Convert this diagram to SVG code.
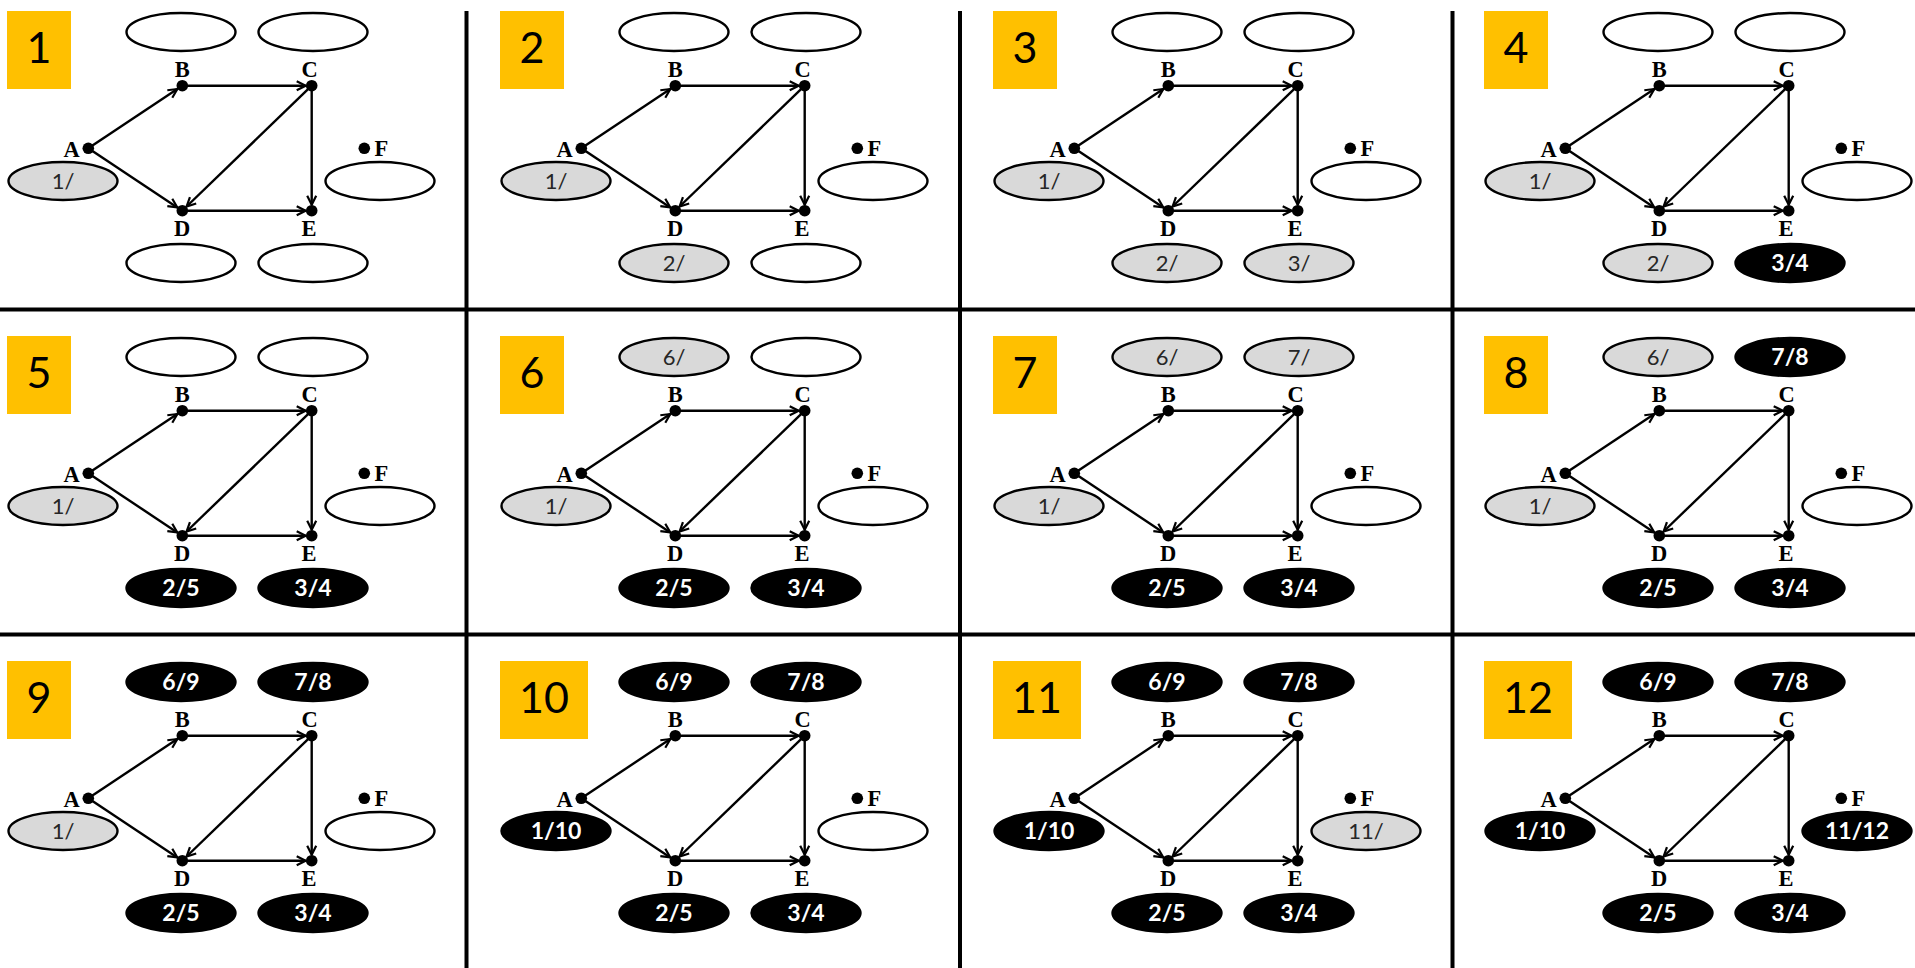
<svg xmlns="http://www.w3.org/2000/svg" width="1915" height="968" viewBox="0 0 1915 968">
<defs>
<style>
.bg{fill:#ffffff}
.grid{stroke:#000;stroke-width:4}
.badge{fill:#FFC000}
.num{font-family:Lato,"Open Sans",sans-serif;font-size:43px;fill:#000;text-anchor:middle}
.edge{stroke:#000;stroke-width:2.4;fill:none;marker-end:url(#arr)}
.dot{fill:#000}
.lbl{font-family:"Liberation Serif","Times New Roman",serif;font-weight:bold;font-size:22.5px;fill:#000;text-anchor:middle}
.lblF{font-family:"Liberation Serif","Times New Roman",serif;font-weight:bold;font-size:22.5px;fill:#000}
.ew{fill:#fff;stroke:#000;stroke-width:2.4}
.eg{fill:#d9d9d9;stroke:#000;stroke-width:2.4}
.eb{fill:#000;stroke:#000;stroke-width:2.4}
.tg{font-family:Lato,"Open Sans",sans-serif;font-size:22px;fill:#262626;text-anchor:middle}
.tb{font-family:Lato,"Open Sans",sans-serif;font-weight:bold;font-size:23px;fill:#fff;text-anchor:middle}
</style>
<marker id="arr" markerUnits="userSpaceOnUse" markerWidth="14" markerHeight="14" viewBox="-2 -2 14 14" refX="9" refY="5" orient="auto">
<path d="M0,0.5 L9,5 L0,9.5" fill="none" stroke="#000" stroke-width="2.2"/>
</marker>
</defs>
<rect class="bg" x="0" y="0" width="1915" height="968"/>
<g id="gridlines">
<line class="grid" x1="466.5" y1="11" x2="466.5" y2="968"/>
<line class="grid" x1="960" y1="11" x2="960" y2="968"/>
<line class="grid" x1="1452.5" y1="11" x2="1452.5" y2="968"/>
<line class="grid" x1="0" y1="309.5" x2="1915" y2="309.5"/>
<line class="grid" x1="0" y1="634.5" x2="1915" y2="634.5"/>
</g>

<!-- Panel 1 -->
<g id="panel1" transform="translate(0,0)">
<g id="p1-badge"><rect class="badge" x="7" y="11" width="64" height="78"/><text class="num" x="39" y="63">1</text></g>
<g id="p1-edges"><line class="edge" x1="88.3" y1="148.3" x2="177.3" y2="89"/><line class="edge" x1="88.3" y1="148.3" x2="177.3" y2="207.4"/><line class="edge" x1="182.3" y1="85.7" x2="305.7" y2="85.7"/><line class="edge" x1="311.7" y1="85.7" x2="186.6" y2="206.5"/><line class="edge" x1="311.7" y1="85.7" x2="311.7" y2="204.7"/><line class="edge" x1="182.3" y1="210.7" x2="305.7" y2="210.7"/></g>
<g id="p1-A"><circle class="dot" cx="88.3" cy="148.3" r="5.8"/><text class="lbl" x="71.7" y="157.3">A</text><ellipse class="eg" cx="63" cy="181" rx="54.5" ry="19"/><text class="tg" x="63" y="189">1/</text></g>
<g id="p1-B"><circle class="dot" cx="182.3" cy="85.7" r="5.8"/><text class="lbl" x="182.3" y="77.3">B</text><ellipse class="ew" cx="181" cy="32" rx="54.5" ry="19"/></g>
<g id="p1-C"><circle class="dot" cx="311.7" cy="85.7" r="5.8"/><text class="lbl" x="309.5" y="77.3">C</text><ellipse class="ew" cx="313" cy="32" rx="54.5" ry="19"/></g>
<g id="p1-D"><circle class="dot" cx="182.3" cy="210.7" r="5.8"/><text class="lbl" x="182" y="236">D</text><ellipse class="ew" cx="181" cy="263" rx="54.5" ry="19"/></g>
<g id="p1-E"><circle class="dot" cx="311.7" cy="210.7" r="5.8"/><text class="lbl" x="309" y="236">E</text><ellipse class="ew" cx="313" cy="263" rx="54.5" ry="19"/></g>
<g id="p1-F"><circle class="dot" cx="364.3" cy="148.3" r="5.8"/><text class="lblF" x="374.5" y="155.5">F</text><ellipse class="ew" cx="380" cy="181" rx="54.5" ry="19"/></g>
</g>

<!-- Panel 2 -->
<g id="panel2" transform="translate(493,0)">
<g id="p2-badge"><rect class="badge" x="7" y="11" width="64" height="78"/><text class="num" x="39" y="63">2</text></g>
<g id="p2-edges"><line class="edge" x1="88.3" y1="148.3" x2="177.3" y2="89"/><line class="edge" x1="88.3" y1="148.3" x2="177.3" y2="207.4"/><line class="edge" x1="182.3" y1="85.7" x2="305.7" y2="85.7"/><line class="edge" x1="311.7" y1="85.7" x2="186.6" y2="206.5"/><line class="edge" x1="311.7" y1="85.7" x2="311.7" y2="204.7"/><line class="edge" x1="182.3" y1="210.7" x2="305.7" y2="210.7"/></g>
<g id="p2-A"><circle class="dot" cx="88.3" cy="148.3" r="5.8"/><text class="lbl" x="71.7" y="157.3">A</text><ellipse class="eg" cx="63" cy="181" rx="54.5" ry="19"/><text class="tg" x="63" y="189">1/</text></g>
<g id="p2-B"><circle class="dot" cx="182.3" cy="85.7" r="5.8"/><text class="lbl" x="182.3" y="77.3">B</text><ellipse class="ew" cx="181" cy="32" rx="54.5" ry="19"/></g>
<g id="p2-C"><circle class="dot" cx="311.7" cy="85.7" r="5.8"/><text class="lbl" x="309.5" y="77.3">C</text><ellipse class="ew" cx="313" cy="32" rx="54.5" ry="19"/></g>
<g id="p2-D"><circle class="dot" cx="182.3" cy="210.7" r="5.8"/><text class="lbl" x="182" y="236">D</text><ellipse class="eg" cx="181" cy="263" rx="54.5" ry="19"/><text class="tg" x="181" y="271">2/</text></g>
<g id="p2-E"><circle class="dot" cx="311.7" cy="210.7" r="5.8"/><text class="lbl" x="309" y="236">E</text><ellipse class="ew" cx="313" cy="263" rx="54.5" ry="19"/></g>
<g id="p2-F"><circle class="dot" cx="364.3" cy="148.3" r="5.8"/><text class="lblF" x="374.5" y="155.5">F</text><ellipse class="ew" cx="380" cy="181" rx="54.5" ry="19"/></g>
</g>

<!-- Panel 3 -->
<g id="panel3" transform="translate(986,0)">
<g id="p3-badge"><rect class="badge" x="7" y="11" width="64" height="78"/><text class="num" x="39" y="63">3</text></g>
<g id="p3-edges"><line class="edge" x1="88.3" y1="148.3" x2="177.3" y2="89"/><line class="edge" x1="88.3" y1="148.3" x2="177.3" y2="207.4"/><line class="edge" x1="182.3" y1="85.7" x2="305.7" y2="85.7"/><line class="edge" x1="311.7" y1="85.7" x2="186.6" y2="206.5"/><line class="edge" x1="311.7" y1="85.7" x2="311.7" y2="204.7"/><line class="edge" x1="182.3" y1="210.7" x2="305.7" y2="210.7"/></g>
<g id="p3-A"><circle class="dot" cx="88.3" cy="148.3" r="5.8"/><text class="lbl" x="71.7" y="157.3">A</text><ellipse class="eg" cx="63" cy="181" rx="54.5" ry="19"/><text class="tg" x="63" y="189">1/</text></g>
<g id="p3-B"><circle class="dot" cx="182.3" cy="85.7" r="5.8"/><text class="lbl" x="182.3" y="77.3">B</text><ellipse class="ew" cx="181" cy="32" rx="54.5" ry="19"/></g>
<g id="p3-C"><circle class="dot" cx="311.7" cy="85.7" r="5.8"/><text class="lbl" x="309.5" y="77.3">C</text><ellipse class="ew" cx="313" cy="32" rx="54.5" ry="19"/></g>
<g id="p3-D"><circle class="dot" cx="182.3" cy="210.7" r="5.8"/><text class="lbl" x="182" y="236">D</text><ellipse class="eg" cx="181" cy="263" rx="54.5" ry="19"/><text class="tg" x="181" y="271">2/</text></g>
<g id="p3-E"><circle class="dot" cx="311.7" cy="210.7" r="5.8"/><text class="lbl" x="309" y="236">E</text><ellipse class="eg" cx="313" cy="263" rx="54.5" ry="19"/><text class="tg" x="313" y="271">3/</text></g>
<g id="p3-F"><circle class="dot" cx="364.3" cy="148.3" r="5.8"/><text class="lblF" x="374.5" y="155.5">F</text><ellipse class="ew" cx="380" cy="181" rx="54.5" ry="19"/></g>
</g>

<!-- Panel 4 -->
<g id="panel4" transform="translate(1477,0)">
<g id="p4-badge"><rect class="badge" x="7" y="11" width="64" height="78"/><text class="num" x="39" y="63">4</text></g>
<g id="p4-edges"><line class="edge" x1="88.3" y1="148.3" x2="177.3" y2="89"/><line class="edge" x1="88.3" y1="148.3" x2="177.3" y2="207.4"/><line class="edge" x1="182.3" y1="85.7" x2="305.7" y2="85.7"/><line class="edge" x1="311.7" y1="85.7" x2="186.6" y2="206.5"/><line class="edge" x1="311.7" y1="85.7" x2="311.7" y2="204.7"/><line class="edge" x1="182.3" y1="210.7" x2="305.7" y2="210.7"/></g>
<g id="p4-A"><circle class="dot" cx="88.3" cy="148.3" r="5.8"/><text class="lbl" x="71.7" y="157.3">A</text><ellipse class="eg" cx="63" cy="181" rx="54.5" ry="19"/><text class="tg" x="63" y="189">1/</text></g>
<g id="p4-B"><circle class="dot" cx="182.3" cy="85.7" r="5.8"/><text class="lbl" x="182.3" y="77.3">B</text><ellipse class="ew" cx="181" cy="32" rx="54.5" ry="19"/></g>
<g id="p4-C"><circle class="dot" cx="311.7" cy="85.7" r="5.8"/><text class="lbl" x="309.5" y="77.3">C</text><ellipse class="ew" cx="313" cy="32" rx="54.5" ry="19"/></g>
<g id="p4-D"><circle class="dot" cx="182.3" cy="210.7" r="5.8"/><text class="lbl" x="182" y="236">D</text><ellipse class="eg" cx="181" cy="263" rx="54.5" ry="19"/><text class="tg" x="181" y="271">2/</text></g>
<g id="p4-E"><circle class="dot" cx="311.7" cy="210.7" r="5.8"/><text class="lbl" x="309" y="236">E</text><ellipse class="eb" cx="313" cy="263" rx="54.5" ry="19"/><text class="tb" x="313" y="271">3/4</text></g>
<g id="p4-F"><circle class="dot" cx="364.3" cy="148.3" r="5.8"/><text class="lblF" x="374.5" y="155.5">F</text><ellipse class="ew" cx="380" cy="181" rx="54.5" ry="19"/></g>
</g>

<!-- Panel 5 -->
<g id="panel5" transform="translate(0,325)">
<g id="p5-badge"><rect class="badge" x="7" y="11" width="64" height="78"/><text class="num" x="39" y="63">5</text></g>
<g id="p5-edges"><line class="edge" x1="88.3" y1="148.3" x2="177.3" y2="89"/><line class="edge" x1="88.3" y1="148.3" x2="177.3" y2="207.4"/><line class="edge" x1="182.3" y1="85.7" x2="305.7" y2="85.7"/><line class="edge" x1="311.7" y1="85.7" x2="186.6" y2="206.5"/><line class="edge" x1="311.7" y1="85.7" x2="311.7" y2="204.7"/><line class="edge" x1="182.3" y1="210.7" x2="305.7" y2="210.7"/></g>
<g id="p5-A"><circle class="dot" cx="88.3" cy="148.3" r="5.8"/><text class="lbl" x="71.7" y="157.3">A</text><ellipse class="eg" cx="63" cy="181" rx="54.5" ry="19"/><text class="tg" x="63" y="189">1/</text></g>
<g id="p5-B"><circle class="dot" cx="182.3" cy="85.7" r="5.8"/><text class="lbl" x="182.3" y="77.3">B</text><ellipse class="ew" cx="181" cy="32" rx="54.5" ry="19"/></g>
<g id="p5-C"><circle class="dot" cx="311.7" cy="85.7" r="5.8"/><text class="lbl" x="309.5" y="77.3">C</text><ellipse class="ew" cx="313" cy="32" rx="54.5" ry="19"/></g>
<g id="p5-D"><circle class="dot" cx="182.3" cy="210.7" r="5.8"/><text class="lbl" x="182" y="236">D</text><ellipse class="eb" cx="181" cy="263" rx="54.5" ry="19"/><text class="tb" x="181" y="271">2/5</text></g>
<g id="p5-E"><circle class="dot" cx="311.7" cy="210.7" r="5.8"/><text class="lbl" x="309" y="236">E</text><ellipse class="eb" cx="313" cy="263" rx="54.5" ry="19"/><text class="tb" x="313" y="271">3/4</text></g>
<g id="p5-F"><circle class="dot" cx="364.3" cy="148.3" r="5.8"/><text class="lblF" x="374.5" y="155.5">F</text><ellipse class="ew" cx="380" cy="181" rx="54.5" ry="19"/></g>
</g>

<!-- Panel 6 -->
<g id="panel6" transform="translate(493,325)">
<g id="p6-badge"><rect class="badge" x="7" y="11" width="64" height="78"/><text class="num" x="39" y="63">6</text></g>
<g id="p6-edges"><line class="edge" x1="88.3" y1="148.3" x2="177.3" y2="89"/><line class="edge" x1="88.3" y1="148.3" x2="177.3" y2="207.4"/><line class="edge" x1="182.3" y1="85.7" x2="305.7" y2="85.7"/><line class="edge" x1="311.7" y1="85.7" x2="186.6" y2="206.5"/><line class="edge" x1="311.7" y1="85.7" x2="311.7" y2="204.7"/><line class="edge" x1="182.3" y1="210.7" x2="305.7" y2="210.7"/></g>
<g id="p6-A"><circle class="dot" cx="88.3" cy="148.3" r="5.8"/><text class="lbl" x="71.7" y="157.3">A</text><ellipse class="eg" cx="63" cy="181" rx="54.5" ry="19"/><text class="tg" x="63" y="189">1/</text></g>
<g id="p6-B"><circle class="dot" cx="182.3" cy="85.7" r="5.8"/><text class="lbl" x="182.3" y="77.3">B</text><ellipse class="eg" cx="181" cy="32" rx="54.5" ry="19"/><text class="tg" x="181" y="40">6/</text></g>
<g id="p6-C"><circle class="dot" cx="311.7" cy="85.7" r="5.8"/><text class="lbl" x="309.5" y="77.3">C</text><ellipse class="ew" cx="313" cy="32" rx="54.5" ry="19"/></g>
<g id="p6-D"><circle class="dot" cx="182.3" cy="210.7" r="5.8"/><text class="lbl" x="182" y="236">D</text><ellipse class="eb" cx="181" cy="263" rx="54.5" ry="19"/><text class="tb" x="181" y="271">2/5</text></g>
<g id="p6-E"><circle class="dot" cx="311.7" cy="210.7" r="5.8"/><text class="lbl" x="309" y="236">E</text><ellipse class="eb" cx="313" cy="263" rx="54.5" ry="19"/><text class="tb" x="313" y="271">3/4</text></g>
<g id="p6-F"><circle class="dot" cx="364.3" cy="148.3" r="5.8"/><text class="lblF" x="374.5" y="155.5">F</text><ellipse class="ew" cx="380" cy="181" rx="54.5" ry="19"/></g>
</g>

<!-- Panel 7 -->
<g id="panel7" transform="translate(986,325)">
<g id="p7-badge"><rect class="badge" x="7" y="11" width="64" height="78"/><text class="num" x="39" y="63">7</text></g>
<g id="p7-edges"><line class="edge" x1="88.3" y1="148.3" x2="177.3" y2="89"/><line class="edge" x1="88.3" y1="148.3" x2="177.3" y2="207.4"/><line class="edge" x1="182.3" y1="85.7" x2="305.7" y2="85.7"/><line class="edge" x1="311.7" y1="85.7" x2="186.6" y2="206.5"/><line class="edge" x1="311.7" y1="85.7" x2="311.7" y2="204.7"/><line class="edge" x1="182.3" y1="210.7" x2="305.7" y2="210.7"/></g>
<g id="p7-A"><circle class="dot" cx="88.3" cy="148.3" r="5.8"/><text class="lbl" x="71.7" y="157.3">A</text><ellipse class="eg" cx="63" cy="181" rx="54.5" ry="19"/><text class="tg" x="63" y="189">1/</text></g>
<g id="p7-B"><circle class="dot" cx="182.3" cy="85.7" r="5.8"/><text class="lbl" x="182.3" y="77.3">B</text><ellipse class="eg" cx="181" cy="32" rx="54.5" ry="19"/><text class="tg" x="181" y="40">6/</text></g>
<g id="p7-C"><circle class="dot" cx="311.7" cy="85.7" r="5.8"/><text class="lbl" x="309.5" y="77.3">C</text><ellipse class="eg" cx="313" cy="32" rx="54.5" ry="19"/><text class="tg" x="313" y="40">7/</text></g>
<g id="p7-D"><circle class="dot" cx="182.3" cy="210.7" r="5.8"/><text class="lbl" x="182" y="236">D</text><ellipse class="eb" cx="181" cy="263" rx="54.5" ry="19"/><text class="tb" x="181" y="271">2/5</text></g>
<g id="p7-E"><circle class="dot" cx="311.7" cy="210.7" r="5.8"/><text class="lbl" x="309" y="236">E</text><ellipse class="eb" cx="313" cy="263" rx="54.5" ry="19"/><text class="tb" x="313" y="271">3/4</text></g>
<g id="p7-F"><circle class="dot" cx="364.3" cy="148.3" r="5.8"/><text class="lblF" x="374.5" y="155.5">F</text><ellipse class="ew" cx="380" cy="181" rx="54.5" ry="19"/></g>
</g>

<!-- Panel 8 -->
<g id="panel8" transform="translate(1477,325)">
<g id="p8-badge"><rect class="badge" x="7" y="11" width="64" height="78"/><text class="num" x="39" y="63">8</text></g>
<g id="p8-edges"><line class="edge" x1="88.3" y1="148.3" x2="177.3" y2="89"/><line class="edge" x1="88.3" y1="148.3" x2="177.3" y2="207.4"/><line class="edge" x1="182.3" y1="85.7" x2="305.7" y2="85.7"/><line class="edge" x1="311.7" y1="85.7" x2="186.6" y2="206.5"/><line class="edge" x1="311.7" y1="85.7" x2="311.7" y2="204.7"/><line class="edge" x1="182.3" y1="210.7" x2="305.7" y2="210.7"/></g>
<g id="p8-A"><circle class="dot" cx="88.3" cy="148.3" r="5.8"/><text class="lbl" x="71.7" y="157.3">A</text><ellipse class="eg" cx="63" cy="181" rx="54.5" ry="19"/><text class="tg" x="63" y="189">1/</text></g>
<g id="p8-B"><circle class="dot" cx="182.3" cy="85.7" r="5.8"/><text class="lbl" x="182.3" y="77.3">B</text><ellipse class="eg" cx="181" cy="32" rx="54.5" ry="19"/><text class="tg" x="181" y="40">6/</text></g>
<g id="p8-C"><circle class="dot" cx="311.7" cy="85.7" r="5.8"/><text class="lbl" x="309.5" y="77.3">C</text><ellipse class="eb" cx="313" cy="32" rx="54.5" ry="19"/><text class="tb" x="313" y="40">7/8</text></g>
<g id="p8-D"><circle class="dot" cx="182.3" cy="210.7" r="5.8"/><text class="lbl" x="182" y="236">D</text><ellipse class="eb" cx="181" cy="263" rx="54.5" ry="19"/><text class="tb" x="181" y="271">2/5</text></g>
<g id="p8-E"><circle class="dot" cx="311.7" cy="210.7" r="5.8"/><text class="lbl" x="309" y="236">E</text><ellipse class="eb" cx="313" cy="263" rx="54.5" ry="19"/><text class="tb" x="313" y="271">3/4</text></g>
<g id="p8-F"><circle class="dot" cx="364.3" cy="148.3" r="5.8"/><text class="lblF" x="374.5" y="155.5">F</text><ellipse class="ew" cx="380" cy="181" rx="54.5" ry="19"/></g>
</g>

<!-- Panel 9 -->
<g id="panel9" transform="translate(0,650)">
<g id="p9-badge"><rect class="badge" x="7" y="11" width="64" height="78"/><text class="num" x="39" y="63">9</text></g>
<g id="p9-edges"><line class="edge" x1="88.3" y1="148.3" x2="177.3" y2="89"/><line class="edge" x1="88.3" y1="148.3" x2="177.3" y2="207.4"/><line class="edge" x1="182.3" y1="85.7" x2="305.7" y2="85.7"/><line class="edge" x1="311.7" y1="85.7" x2="186.6" y2="206.5"/><line class="edge" x1="311.7" y1="85.7" x2="311.7" y2="204.7"/><line class="edge" x1="182.3" y1="210.7" x2="305.7" y2="210.7"/></g>
<g id="p9-A"><circle class="dot" cx="88.3" cy="148.3" r="5.8"/><text class="lbl" x="71.7" y="157.3">A</text><ellipse class="eg" cx="63" cy="181" rx="54.5" ry="19"/><text class="tg" x="63" y="189">1/</text></g>
<g id="p9-B"><circle class="dot" cx="182.3" cy="85.7" r="5.8"/><text class="lbl" x="182.3" y="77.3">B</text><ellipse class="eb" cx="181" cy="32" rx="54.5" ry="19"/><text class="tb" x="181" y="40">6/9</text></g>
<g id="p9-C"><circle class="dot" cx="311.7" cy="85.7" r="5.8"/><text class="lbl" x="309.5" y="77.3">C</text><ellipse class="eb" cx="313" cy="32" rx="54.5" ry="19"/><text class="tb" x="313" y="40">7/8</text></g>
<g id="p9-D"><circle class="dot" cx="182.3" cy="210.7" r="5.8"/><text class="lbl" x="182" y="236">D</text><ellipse class="eb" cx="181" cy="263" rx="54.5" ry="19"/><text class="tb" x="181" y="271">2/5</text></g>
<g id="p9-E"><circle class="dot" cx="311.7" cy="210.7" r="5.8"/><text class="lbl" x="309" y="236">E</text><ellipse class="eb" cx="313" cy="263" rx="54.5" ry="19"/><text class="tb" x="313" y="271">3/4</text></g>
<g id="p9-F"><circle class="dot" cx="364.3" cy="148.3" r="5.8"/><text class="lblF" x="374.5" y="155.5">F</text><ellipse class="ew" cx="380" cy="181" rx="54.5" ry="19"/></g>
</g>

<!-- Panel 10 -->
<g id="panel10" transform="translate(493,650)">
<g id="p10-badge"><rect class="badge" x="7" y="11" width="88" height="78"/><text class="num" x="51" y="63">10</text></g>
<g id="p10-edges"><line class="edge" x1="88.3" y1="148.3" x2="177.3" y2="89"/><line class="edge" x1="88.3" y1="148.3" x2="177.3" y2="207.4"/><line class="edge" x1="182.3" y1="85.7" x2="305.7" y2="85.7"/><line class="edge" x1="311.7" y1="85.7" x2="186.6" y2="206.5"/><line class="edge" x1="311.7" y1="85.7" x2="311.7" y2="204.7"/><line class="edge" x1="182.3" y1="210.7" x2="305.7" y2="210.7"/></g>
<g id="p10-A"><circle class="dot" cx="88.3" cy="148.3" r="5.8"/><text class="lbl" x="71.7" y="157.3">A</text><ellipse class="eb" cx="63" cy="181" rx="54.5" ry="19"/><text class="tb" x="63" y="189">1/10</text></g>
<g id="p10-B"><circle class="dot" cx="182.3" cy="85.7" r="5.8"/><text class="lbl" x="182.3" y="77.3">B</text><ellipse class="eb" cx="181" cy="32" rx="54.5" ry="19"/><text class="tb" x="181" y="40">6/9</text></g>
<g id="p10-C"><circle class="dot" cx="311.7" cy="85.7" r="5.8"/><text class="lbl" x="309.5" y="77.3">C</text><ellipse class="eb" cx="313" cy="32" rx="54.5" ry="19"/><text class="tb" x="313" y="40">7/8</text></g>
<g id="p10-D"><circle class="dot" cx="182.3" cy="210.7" r="5.8"/><text class="lbl" x="182" y="236">D</text><ellipse class="eb" cx="181" cy="263" rx="54.5" ry="19"/><text class="tb" x="181" y="271">2/5</text></g>
<g id="p10-E"><circle class="dot" cx="311.7" cy="210.7" r="5.8"/><text class="lbl" x="309" y="236">E</text><ellipse class="eb" cx="313" cy="263" rx="54.5" ry="19"/><text class="tb" x="313" y="271">3/4</text></g>
<g id="p10-F"><circle class="dot" cx="364.3" cy="148.3" r="5.8"/><text class="lblF" x="374.5" y="155.5">F</text><ellipse class="ew" cx="380" cy="181" rx="54.5" ry="19"/></g>
</g>

<!-- Panel 11 -->
<g id="panel11" transform="translate(986,650)">
<g id="p11-badge"><rect class="badge" x="7" y="11" width="88" height="78"/><text class="num" x="51" y="63">11</text></g>
<g id="p11-edges"><line class="edge" x1="88.3" y1="148.3" x2="177.3" y2="89"/><line class="edge" x1="88.3" y1="148.3" x2="177.3" y2="207.4"/><line class="edge" x1="182.3" y1="85.7" x2="305.7" y2="85.7"/><line class="edge" x1="311.7" y1="85.7" x2="186.6" y2="206.5"/><line class="edge" x1="311.7" y1="85.7" x2="311.7" y2="204.7"/><line class="edge" x1="182.3" y1="210.7" x2="305.7" y2="210.7"/></g>
<g id="p11-A"><circle class="dot" cx="88.3" cy="148.3" r="5.8"/><text class="lbl" x="71.7" y="157.3">A</text><ellipse class="eb" cx="63" cy="181" rx="54.5" ry="19"/><text class="tb" x="63" y="189">1/10</text></g>
<g id="p11-B"><circle class="dot" cx="182.3" cy="85.7" r="5.8"/><text class="lbl" x="182.3" y="77.3">B</text><ellipse class="eb" cx="181" cy="32" rx="54.5" ry="19"/><text class="tb" x="181" y="40">6/9</text></g>
<g id="p11-C"><circle class="dot" cx="311.7" cy="85.7" r="5.8"/><text class="lbl" x="309.5" y="77.3">C</text><ellipse class="eb" cx="313" cy="32" rx="54.5" ry="19"/><text class="tb" x="313" y="40">7/8</text></g>
<g id="p11-D"><circle class="dot" cx="182.3" cy="210.7" r="5.8"/><text class="lbl" x="182" y="236">D</text><ellipse class="eb" cx="181" cy="263" rx="54.5" ry="19"/><text class="tb" x="181" y="271">2/5</text></g>
<g id="p11-E"><circle class="dot" cx="311.7" cy="210.7" r="5.8"/><text class="lbl" x="309" y="236">E</text><ellipse class="eb" cx="313" cy="263" rx="54.5" ry="19"/><text class="tb" x="313" y="271">3/4</text></g>
<g id="p11-F"><circle class="dot" cx="364.3" cy="148.3" r="5.8"/><text class="lblF" x="374.5" y="155.5">F</text><ellipse class="eg" cx="380" cy="181" rx="54.5" ry="19"/><text class="tg" x="380" y="189">11/</text></g>
</g>

<!-- Panel 12 -->
<g id="panel12" transform="translate(1477,650)">
<g id="p12-badge"><rect class="badge" x="7" y="11" width="88" height="78"/><text class="num" x="51" y="63">12</text></g>
<g id="p12-edges"><line class="edge" x1="88.3" y1="148.3" x2="177.3" y2="89"/><line class="edge" x1="88.3" y1="148.3" x2="177.3" y2="207.4"/><line class="edge" x1="182.3" y1="85.7" x2="305.7" y2="85.7"/><line class="edge" x1="311.7" y1="85.7" x2="186.6" y2="206.5"/><line class="edge" x1="311.7" y1="85.7" x2="311.7" y2="204.7"/><line class="edge" x1="182.3" y1="210.7" x2="305.7" y2="210.7"/></g>
<g id="p12-A"><circle class="dot" cx="88.3" cy="148.3" r="5.8"/><text class="lbl" x="71.7" y="157.3">A</text><ellipse class="eb" cx="63" cy="181" rx="54.5" ry="19"/><text class="tb" x="63" y="189">1/10</text></g>
<g id="p12-B"><circle class="dot" cx="182.3" cy="85.7" r="5.8"/><text class="lbl" x="182.3" y="77.3">B</text><ellipse class="eb" cx="181" cy="32" rx="54.5" ry="19"/><text class="tb" x="181" y="40">6/9</text></g>
<g id="p12-C"><circle class="dot" cx="311.7" cy="85.7" r="5.8"/><text class="lbl" x="309.5" y="77.3">C</text><ellipse class="eb" cx="313" cy="32" rx="54.5" ry="19"/><text class="tb" x="313" y="40">7/8</text></g>
<g id="p12-D"><circle class="dot" cx="182.3" cy="210.7" r="5.8"/><text class="lbl" x="182" y="236">D</text><ellipse class="eb" cx="181" cy="263" rx="54.5" ry="19"/><text class="tb" x="181" y="271">2/5</text></g>
<g id="p12-E"><circle class="dot" cx="311.7" cy="210.7" r="5.8"/><text class="lbl" x="309" y="236">E</text><ellipse class="eb" cx="313" cy="263" rx="54.5" ry="19"/><text class="tb" x="313" y="271">3/4</text></g>
<g id="p12-F"><circle class="dot" cx="364.3" cy="148.3" r="5.8"/><text class="lblF" x="374.5" y="155.5">F</text><ellipse class="eb" cx="380" cy="181" rx="54.5" ry="19"/><text class="tb" x="380" y="189">11/12</text></g>
</g>
</svg>
